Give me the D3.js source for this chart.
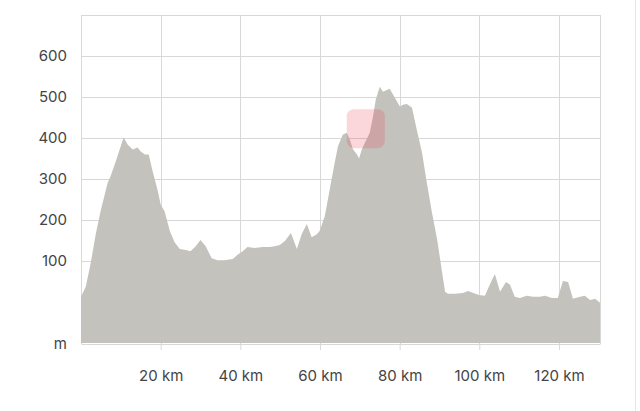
<!DOCTYPE html>
<html>
<head>
<meta charset="utf-8">
<script src="https://cdn.jsdelivr.net/npm/d3@7"></script>
<style>
  body { margin: 0; background: #fff; }
  text { font-family: Inter, "Open Sans", sans-serif; font-size: 15px; fill: #444; }
</style>
</head>
<body>
<script>
const width = 640;
const height = 411;
const margin = { top: 15, right: 40, bottom: 68, left: 81 };

// elevation profile
const distKm = [0, 1.2, 2.4, 3.7, 4.9, 6.7, 7.4, 8.7, 10.7, 11.7, 13.0, 14.2, 15.0, 16.0, 17.0, 18.0, 19.3, 20.0,
  21.0, 22.3, 23.5, 24.8, 26.3, 27.5, 28.8, 30.0, 31.3, 32.8, 34.3, 36.0, 38.1, 39.3, 40.6, 41.8, 43.6, 45.6,
  47.4, 48.6, 49.9, 51.2, 52.7, 54.2, 55.4, 56.7, 57.9, 59.2, 59.9, 61.2, 61.9, 62.9, 63.7, 64.5, 65.7, 66.7,
  67.5, 68.3, 69.3, 69.8, 70.5, 71.3, 72.5, 73.3, 74.0, 75.0, 75.8, 77.5, 78.8, 80.1, 80.8, 81.8, 83.1, 84.3,
  85.6, 86.8, 88.1, 89.4, 90.6, 91.4, 92.1, 93.9, 95.9, 97.2, 98.5, 99.9, 101.4, 102.7, 103.9, 105.2, 106.7,
  107.7, 108.9, 110.2, 111.9, 113.5, 115.2, 116.5, 118.2, 119.7, 121.0, 122.3, 123.5, 125.3, 126.5, 127.8,
  129.1, 130.3];
const elevM = [13, 37, 93, 165, 221, 291, 306, 342, 401, 384, 372, 377, 367, 360, 360, 318, 270, 238,
  221, 173, 146, 129, 127, 124, 136, 151, 136, 107, 102, 102, 105, 115, 124, 134, 132, 134,
  134, 136, 139, 149, 168, 129, 165, 190, 158, 165, 173, 209, 246, 299, 340, 379, 408, 413,
  396, 372, 360, 350, 372, 389, 413, 452, 493, 525, 513, 520, 498, 476, 481, 483, 474, 420,
  365, 292, 219, 153, 76, 25, 20, 20, 22, 27, 22, 17, 15, 44, 68, 25, 49,
  42, 13, 10, 15, 13, 13, 15, 10, 10, 51, 49, 8, 13, 15, 5,
  8, -2];

const yTicks = [100, 200, 300, 400, 500, 600];
const xTicks = [20, 40, 60, 80, 100, 120];
const yMin = -100, yMax = 700;

// highlighted position
const markerKm = 71.5;
const markerM = 424;

const data = distKm.map((d, i) => ({ km: d, m: elevM[i] }));

const svg = d3.select("body")
  .append("svg")
  .attr("width", width)
  .attr("height", height);

const xScale = d3.scaleLinear()
  .domain([0, d3.max(distKm)])
  .range([margin.left, width - margin.right]);

const yScale = d3.scaleLinear()
  .domain([yMin, yMax])
  .range([height - margin.bottom, margin.top]);

const grid = svg.append("g").attr("stroke", "#d8d8d8").attr("stroke-width", 1);

// horizontal grid, top line included
grid.selectAll(".h")
  .data(yTicks.concat([yMax]))
  .enter()
  .append("line")
  .attr("x1", xScale.range()[0])
  .attr("x2", xScale.range()[1])
  .attr("y1", d => Math.round(yScale(d)) + 0.5)
  .attr("y2", d => Math.round(yScale(d)) + 0.5);

// vertical grid incl. left and right borders
grid.selectAll(".v")
  .data([0].concat(xTicks, [d3.max(distKm)]))
  .enter()
  .append("line")
  .attr("x1", d => Math.round(xScale(d)) + 0.5)
  .attr("x2", d => Math.round(xScale(d)) + 0.5)
  .attr("y1", yScale(yMax))
  .attr("y2", yScale(yMin) + 1);

const area = d3.area()
  .x(d => xScale(d.km))
  .y0(yScale(yMin))
  .y1(d => yScale(d.m));

svg.append("path")
  .datum(data)
  .attr("fill", "#c3c2bd")
  .attr("d", area);

// position marker
svg.append("rect")
  .attr("x", xScale(markerKm) - 19)
  .attr("y", yScale(markerM) - 19)
  .attr("width", 38)
  .attr("height", 39)
  .attr("rx", 7)
  .attr("fill", "rgba(238, 70, 85, 0.22)");

// x axis
const xAxis = d3.axisBottom(xScale)
  .tickValues(xTicks)
  .tickSizeInner(6)
  .tickSizeOuter(0)
  .tickPadding(20)
  .tickFormat(d => d + " km");

svg.append("g")
  .attr("transform", `translate(0, ${yScale(yMin) + 1})`)
  .call(xAxis)
  .call(g => g.select(".domain").attr("stroke", "#d8d8d8"))
  .call(g => g.selectAll(".tick line").attr("stroke", "#d8d8d8"))
  .call(g => g.selectAll("text").attr("font-family", null).attr("font-size", null));

// y labels
svg.append("g")
  .selectAll("text")
  .data(yTicks)
  .enter()
  .append("text")
  .attr("x", margin.left - 14)
  .attr("y", d => yScale(d))
  .attr("dy", "0.35em")
  .attr("text-anchor", "end")
  .text(d => d);

svg.append("text")
  .attr("x", margin.left - 14)
  .attr("y", yScale(yMin) + 1)
  .attr("dy", "0.35em")
  .attr("text-anchor", "end")
  .text("m");

// right frame edge
svg.append("line")
  .attr("x1", 635.5).attr("x2", 635.5)
  .attr("y1", 0).attr("y2", height)
  .attr("stroke", "#e2e8ea");
</script>
</body>
</html>
